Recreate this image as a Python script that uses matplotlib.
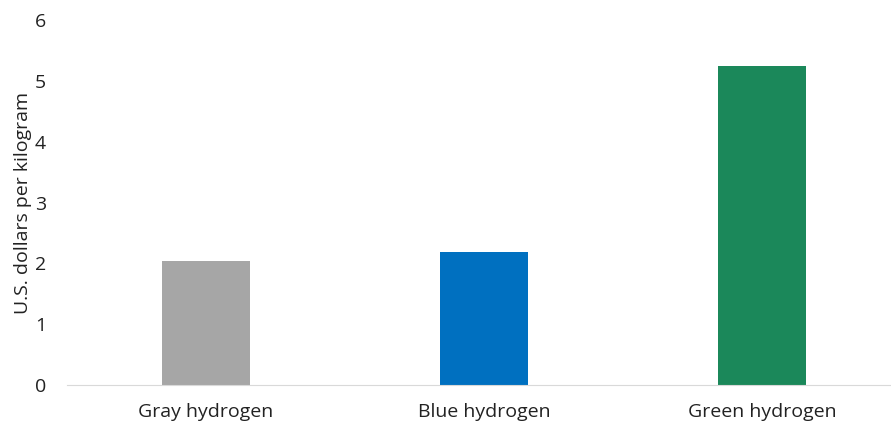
import matplotlib.pyplot as plt

# Hydrogen production cost by type
categories = ['Gray hydrogen', 'Blue hydrogen', 'Green hydrogen']
costs = [2.04, 2.19, 5.25]
colors = ['#A6A6A6', '#0070C0', '#1B885A']

plt.rcParams['font.family'] = ['Open Sans', 'DejaVu Sans']

fig = plt.figure(figsize=(8.91, 4.25), dpi=100)
ax = fig.add_axes([67 / 891, 40 / 425, 824 / 891, 365 / 425])

x = range(len(categories))
ax.bar(x, costs, width=0.317, color=colors, zorder=2)

ax.set_xlim(-0.5, 2.464)
ax.set_ylim(0, 6)
ax.set_xticks(list(x))
ax.set_xticklabels(categories)
ax.set_yticks(range(0, 7))

ax.tick_params(axis='both', length=0, labelsize=14, colors='#222222')
ax.tick_params(axis='y', pad=15)
ax.tick_params(axis='x', pad=13)

for side in ['top', 'right', 'left']:
    ax.spines[side].set_visible(False)
ax.spines['bottom'].set_color('#D9D9D9')

ax.set_ylabel('U.S. dollars per kilogram', fontsize=14, color='#222222', labelpad=2)

fig.savefig('out.png', dpi=100)
